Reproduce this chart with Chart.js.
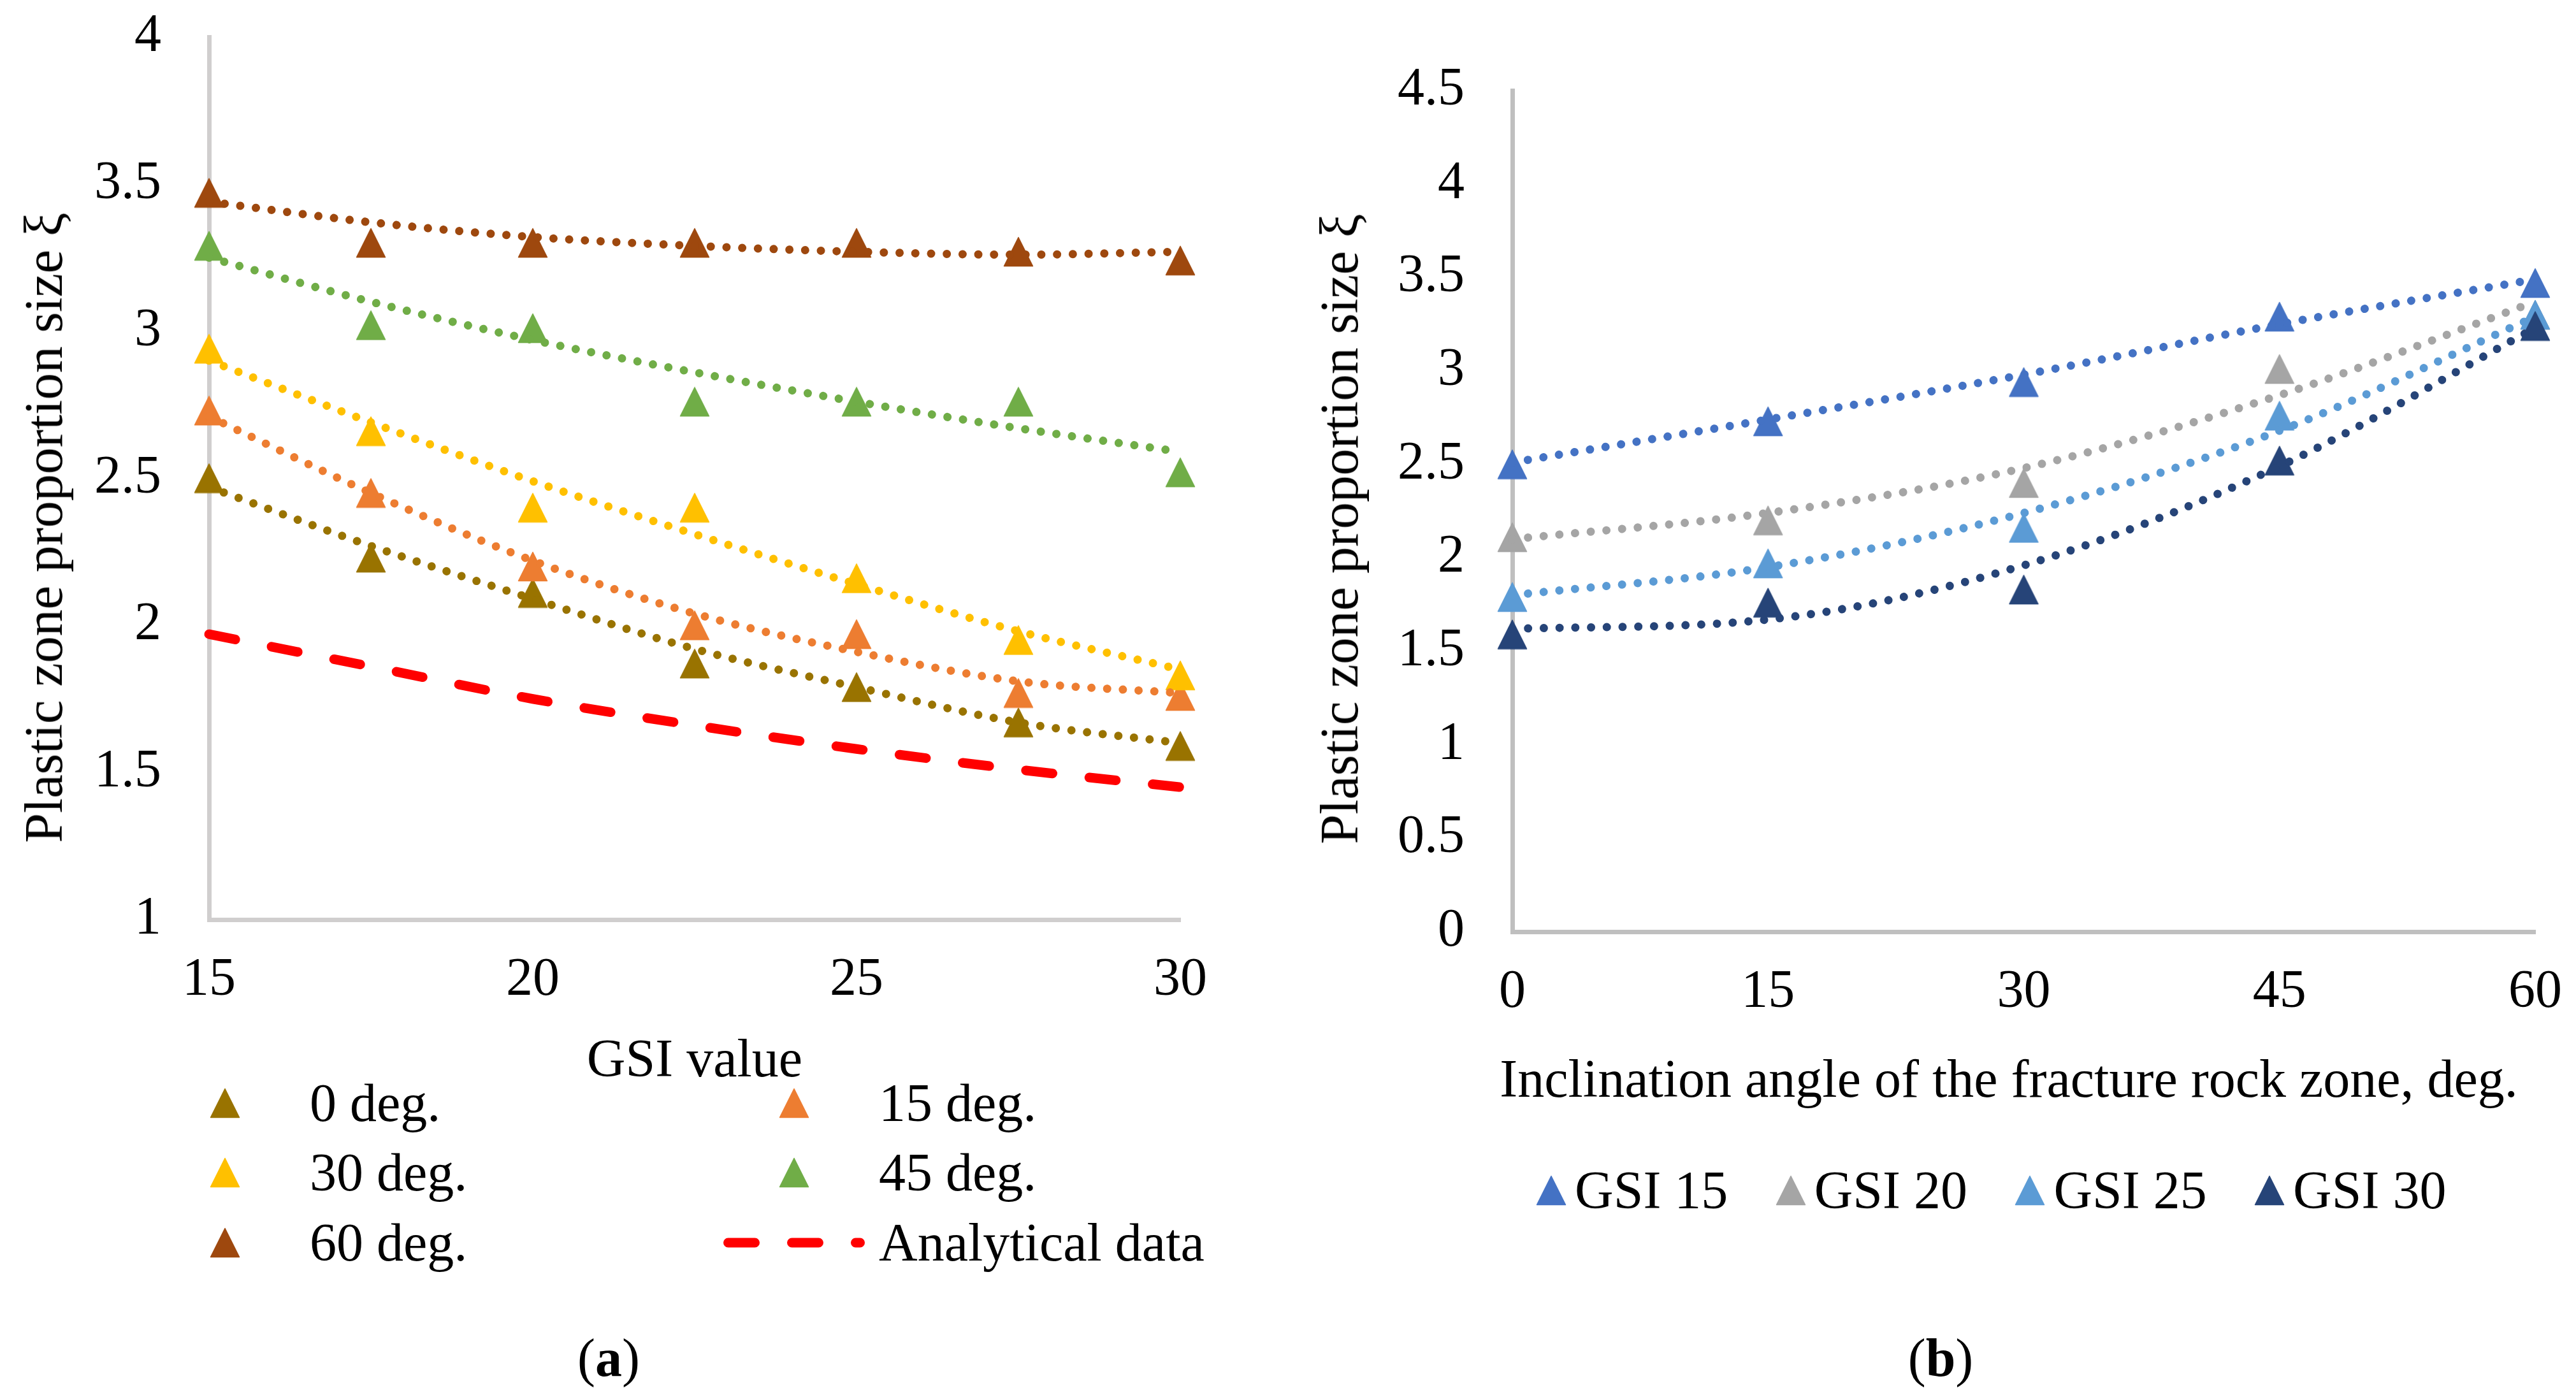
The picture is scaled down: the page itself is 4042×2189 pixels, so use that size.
<!DOCTYPE html>
<html>
<head>
<meta charset="utf-8">
<title>Plastic zone proportion size</title>
<script src="https://cdn.jsdelivr.net/npm/chart.js@4.4.1/dist/chart.umd.min.js"></script>
<style>
  html, body { margin:0; padding:0; background:#ffffff; }
  body { position:relative; width:4042px; height:2189px; overflow:hidden;
         font-family:"Liberation Serif","Times New Roman",serif; color:#000; }
  canvas.chart { position:absolute; top:0; }
  #leftCanvas { left:0; }
  #rightCanvas { left:2000px; }
  .label { position:absolute; font-size:84px; line-height:1; white-space:nowrap; }
  .center { transform:translate(-50%,-50%); }
  .vertical { transform:translate(-50%,-50%) rotate(-90deg); }
  .legend { position:absolute; display:grid; font-size:84px; line-height:1; }
  .legend .item { display:flex; align-items:center; white-space:nowrap; }
  .legend .sym { display:flex; justify-content:center; align-items:center; flex:none; }
  #leftLegend { left:242px; top:1676px; grid-template-columns:893px 893px; grid-auto-rows:109.5px; }
  #leftLegend .sym { width:222px; margin-right:22px; }
  #rightLegend { left:2410px; top:1818px; grid-template-columns:repeat(4, 375.7px); grid-auto-rows:100px; }
  #rightLegend .sym { width:48px; margin-right:13px; }
</style>
</head>
<body>
<canvas id="leftCanvas" class="chart" width="2000" height="1620"></canvas>
<canvas id="rightCanvas" class="chart" width="2042" height="1640"></canvas>

<div class="label vertical" style="left:69px; top:828px;">Plastic zone proportion size ξ</div>
<div class="label center" style="left:1090px; top:1661px;">GSI value</div>
<div id="leftLegend" class="legend"></div>
<div class="label center" style="left:955px; top:2131px;">(<b>a</b>)</div>

<div class="label vertical" style="left:2102px; top:830px;">Plastic zone proportion size ξ</div>
<div class="label center" style="left:3152px; top:1693px;">Inclination angle of the fracture rock zone, deg.</div>
<div id="rightLegend" class="legend"></div>
<div class="label center" style="left:3045px; top:2131px;">(<b>b</b>)</div>

<script>
// ---------- Data: chart (a) ----------
const gsiValues = [15, 17.5, 20, 22.5, 25, 27.5, 30];
const gsiTicks  = [15, 20, 25, 30];
const deg0   = [2.50, 2.23, 2.11, 1.87, 1.79, 1.67, 1.59];
const deg15  = [2.73, 2.45, 2.20, 2.00, 1.97, 1.77, 1.76];
const deg30  = [2.94, 2.66, 2.40, 2.40, 2.16, 1.95, 1.83];
const deg45  = [3.29, 3.02, 3.01, 2.76, 2.76, 2.76, 2.52];
const deg60  = [3.47, 3.30, 3.30, 3.30, 3.30, 3.27, 3.24];
const analyticalData = [1.97, 1.86, 1.75, 1.66, 1.58, 1.51, 1.45];
// dotted trend lines
const trendDeg0  = [2.47, 2.27, 2.09, 1.92, 1.79, 1.67, 1.60];
const trendDeg15 = [2.71, 2.45, 2.22, 2.04, 1.91, 1.81, 1.77];
const trendDeg30 = [2.90, 2.69, 2.49, 2.31, 2.14, 1.98, 1.85];
const trendDeg45 = [3.25, 3.10, 2.97, 2.86, 2.76, 2.67, 2.59];
const trendDeg60 = [3.44, 3.37, 3.32, 3.29, 3.27, 3.26, 3.27];
const seriesLabelsA = ['0 deg.', '15 deg.', '30 deg.', '45 deg.', '60 deg.'];
const analyticalLabel = 'Analytical data';

// ---------- Data: chart (b) ----------
const angles = [0, 15, 30, 45, 60];
const gsi15 = [2.50, 2.73, 2.94, 3.29, 3.47];
const gsi20 = [2.11, 2.20, 2.40, 3.01, 3.30];
const gsi25 = [1.79, 1.97, 2.16, 2.76, 3.30];
const gsi30 = [1.59, 1.76, 1.83, 2.52, 3.24];
const trendGsi15 = [2.51, 2.74, 2.98, 3.25, 3.49];
const trendGsi20 = [2.10, 2.24, 2.48, 2.87, 3.37];
const trendGsi25 = [1.80, 1.95, 2.24, 2.68, 3.29];
const trendGsi30 = [1.62, 1.67, 1.96, 2.49, 3.23];
const seriesLabelsB = ['GSI 15', 'GSI 20', 'GSI 25', 'GSI 30'];

// ---------- Styles ----------
const colorsA = ['#997300', '#ED7D31', '#FFC000', '#70AD47', '#9E480E'];
const colorsB = ['#4472C4', '#A5A5A5', '#5B9BD5', '#264478'];
const analyticalColor = '#FF0000';
const FONT = '"Liberation Serif", "Times New Roman", serif';

Chart.defaults.font.family = FONT;
Chart.defaults.font.size = 84;
Chart.defaults.color = '#000000';

function triMarker(color) {
  const c = document.createElement('canvas');
  c.width = 48; c.height = 48;
  const g = c.getContext('2d');
  g.fillStyle = color; g.strokeStyle = color;
  g.lineWidth = 1.5; g.lineJoin = 'round';
  g.beginPath();
  g.moveTo(24, 1.5); g.lineTo(46.5, 46.5); g.lineTo(1.5, 46.5);
  g.closePath(); g.fill(); g.stroke();
  return c;
}

function toPoints(xs, ys) { return xs.map((x, i) => ({ x: x, y: ys[i] })); }

function markerDataset(label, xs, ys, color, order) {
  return {
    label: label, data: toPoints(xs, ys), showLine: false,
    pointStyle: triMarker(color), pointRadius: 24, pointHoverRadius: 24,
    borderColor: color, backgroundColor: color,
    order: order, clip: false, legendSymbol: 'marker', symbolColor: color
  };
}
function trendDataset(label, xs, ys, color) {
  return {
    label: label, data: toPoints(xs, ys), showLine: true, fill: false,
    pointRadius: 0, pointHoverRadius: 0,
    borderColor: color, borderWidth: 13, borderDash: [0.01, 24.7], borderCapStyle: 'round',
    cubicInterpolationMode: 'monotone', order: 1, clip: false
  };
}

function fmt(v) { return String(Math.round(v * 10) / 10); }

function axisOptions(min, max, step, borderColor, sizeFn, padding) {
  return {
    type: 'linear', min: min, max: max,
    grid: { display: false, drawTicks: false },
    border: { display: true, color: borderColor, width: 7 },
    ticks: { stepSize: step, padding: padding, color: '#000', maxRotation: 0, autoSkip: false,
             font: { family: FONT, size: 84 }, callback: fmt },
    afterFit: s => {
      sizeFn(s);
      s.paddingTop = 0; s.paddingBottom = 0; s.paddingLeft = 0; s.paddingRight = 0;
    }
  };
}

// ---------- Chart (a) ----------
const valuesA = [deg0, deg15, deg30, deg45, deg60];
const trendsA = [trendDeg0, trendDeg15, trendDeg30, trendDeg45, trendDeg60];
const datasetsA = [];
valuesA.forEach((v, i) => datasetsA.push(markerDataset(seriesLabelsA[i], gsiValues, v, colorsA[i], 20 - i)));
datasetsA.push({
  label: analyticalLabel, data: toPoints(gsiValues, analyticalData), showLine: true, fill: false,
  pointRadius: 0, pointHoverRadius: 0,
  borderColor: analyticalColor, borderWidth: 15, borderDash: [42, 58], borderCapStyle: 'round',
  cubicInterpolationMode: 'monotone', order: 10, clip: false,
  legendSymbol: 'dash', symbolColor: analyticalColor
});
trendsA.forEach((t, i) => datasetsA.push(trendDataset(seriesLabelsA[i] + ' trend', gsiValues, t, colorsA[i])));

const chartA = new Chart(document.getElementById('leftCanvas'), {
  type: 'scatter',
  data: { datasets: datasetsA },
  options: {
    responsive: false, animation: false, events: [],
    layout: { padding: { left: 0, top: 58, right: 148, bottom: 0 } },
    plugins: { legend: { display: false }, tooltip: { enabled: false }, title: { display: false } },
    scales: {
      x: axisOptions(gsiTicks[0], gsiTicks[gsiTicks.length - 1], 5, '#D0CECE', s => { s.height = 177; }, 46),
      y: axisOptions(1, 4, 0.5, '#D0CECE', s => { s.width = 328; }, 75)
    }
  }
});

// ---------- Chart (b) ----------
const valuesB = [gsi15, gsi20, gsi25, gsi30];
const trendsB = [trendGsi15, trendGsi20, trendGsi25, trendGsi30];
const datasetsB = [];
valuesB.forEach((v, i) => datasetsB.push(markerDataset(seriesLabelsB[i], angles, v, colorsB[i], 20 - i)));
trendsB.forEach((t, i) => datasetsB.push(trendDataset(seriesLabelsB[i] + ' trend', angles, t, colorsB[i])));

const chartB = new Chart(document.getElementById('rightCanvas'), {
  type: 'scatter',
  data: { datasets: datasetsB },
  options: {
    responsive: false, animation: false, events: [],
    layout: { padding: { left: 0, top: 142, right: 64, bottom: 0 } },
    plugins: { legend: { display: false }, tooltip: { enabled: false }, title: { display: false } },
    scales: {
      x: axisOptions(angles[0], angles[angles.length - 1], 15, '#BFBFBF', s => { s.height = 178; }, 46),
      y: axisOptions(0, 4.5, 0.5, '#BFBFBF', s => { s.width = 373; }, 75)
    }
  }
});

// ---------- HTML legends built from the chart datasets ----------
function buildLegend(chart, containerId, symWidth) {
  const box = document.getElementById(containerId);
  chart.data.datasets.filter(d => d.legendSymbol).forEach(d => {
    const item = document.createElement('div'); item.className = 'item';
    const sym = document.createElement('div'); sym.className = 'sym';
    if (d.legendSymbol === 'marker') {
      sym.appendChild(triMarker(d.symbolColor));
    } else {
      const c = document.createElement('canvas');
      c.width = symWidth; c.height = 20;
      const g = c.getContext('2d');
      g.strokeStyle = d.symbolColor; g.lineWidth = d.borderWidth; g.lineCap = 'round';
      g.setLineDash(d.borderDash);
      g.beginPath(); g.moveTo(7.5, 10); g.lineTo(symWidth - 7.5, 10); g.stroke();
      sym.appendChild(c);
    }
    const txt = document.createElement('span'); txt.textContent = d.label;
    item.appendChild(sym); item.appendChild(txt);
    box.appendChild(item);
  });
}
buildLegend(chartA, 'leftLegend', 222);
buildLegend(chartB, 'rightLegend', 48);
</script>
</body>
</html>
